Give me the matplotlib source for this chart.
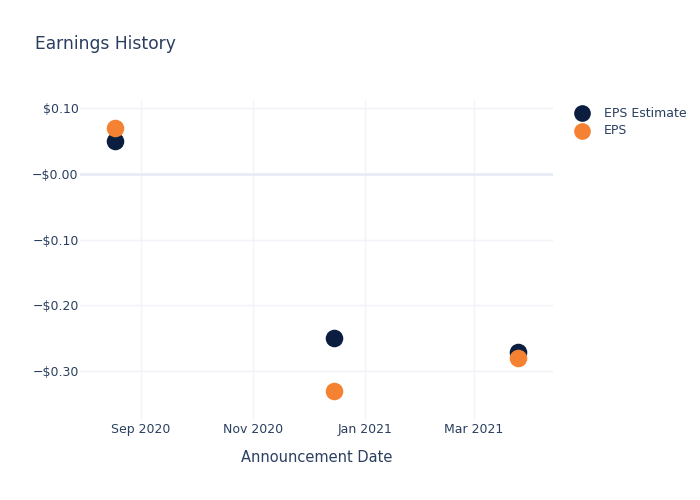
import matplotlib
matplotlib.use("Agg")
import matplotlib.pyplot as plt
import matplotlib.dates as mdates
from matplotlib.ticker import FuncFormatter
import numpy as np

dates = np.array(["2020-08-18", "2020-12-15", "2021-03-25"], dtype="datetime64[D]")
eps_estimate = [0.05, -0.25, -0.27]
eps_actual = [0.07, -0.33, -0.28]

txt = "#2a3f5f"
grid = "#f0f3f9"

fig = plt.figure(figsize=(7, 5), dpi=100)
ax = fig.add_axes([80 / 700, 80 / 500, 473 / 700, 320 / 500])

ax.scatter(dates, eps_estimate, s=160, color="#0c1e40", label="EPS Estimate", zorder=3, linewidths=0)
ax.scatter(dates, eps_actual, s=160, color="#f58232", label="EPS", zorder=4, linewidths=0)

ax.set_xlim(np.datetime64("2020-07-30"), np.datetime64("2021-04-13"))
ax.set_ylim(-0.374, 0.112)

ax.xaxis.set_major_locator(mdates.MonthLocator(bymonth=[1, 3, 9, 11]))
ax.xaxis.set_major_formatter(mdates.DateFormatter("%b %Y"))
ax.set_yticks([0.1, 0.0, -0.1, -0.2, -0.3])


def fmt(v, pos):
    if v >= 0.05:
        return "$%.2f" % v
    return "\u2212$%.2f" % abs(v)


ax.yaxis.set_major_formatter(FuncFormatter(fmt))

for s in ax.spines.values():
    s.set_visible(False)
ax.grid(True, color=grid, linewidth=1)
ax.axhline(0, color="#e8ecf6", linewidth=2, zorder=1)
ax.set_axisbelow(True)
ax.tick_params(length=0, labelsize=9, labelcolor=txt)
ax.tick_params(axis="y", pad=1)
ax.tick_params(axis="x", pad=2)

ax.set_xlabel("Announcement Date", fontsize=10.5, color=txt, labelpad=10)
fig.text(35 / 700, 1 - 44 / 500, "Earnings History", fontsize=12.3, color=txt, va="center")

leg = ax.legend(loc="upper left", bbox_to_anchor=(1.025, 0.995), frameon=False,
                fontsize=9, labelcolor=txt, handletextpad=0.7, borderaxespad=0,
                labelspacing=0.35, markerscale=0.95)

fig.savefig("out.png", dpi=100)
